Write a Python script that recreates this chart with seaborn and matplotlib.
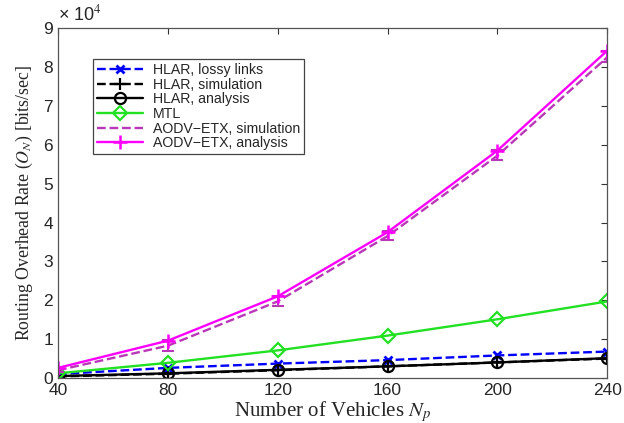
import matplotlib
matplotlib.use("Agg")
import matplotlib.pyplot as plt
import seaborn as sns
import numpy as np

# Data (routing overhead rate, in units of 10^4 bits/sec)
vehicles = [40, 80, 120, 160, 200, 240]
hlar_lossy = [0.10, 0.26, 0.37, 0.46, 0.58, 0.68]
hlar_sim = [0.04, 0.11, 0.20, 0.30, 0.40, 0.50]
hlar_analysis = [0.05, 0.12, 0.21, 0.30, 0.40, 0.51]
mtl = [0.12, 0.39, 0.71, 1.09, 1.51, 1.97]
aodv_sim = [0.20, 0.83, 1.97, 3.65, 5.72, 8.25]
aodv_sim_err_low = [0.05, 0.13, 0.12, 0.10, 0.12, 0.12]
aodv_sim_err_high = [0.05, 0.15, 0.13, 0.13, 0.15, 0.15]
aodv_analysis = [0.26, 0.96, 2.10, 3.75, 5.85, 8.42]

x_ticks = [40, 80, 120, 160, 200, 240]
y_ticks = list(range(0, 10))

sns.set_style("white")
plt.rcParams['font.family'] = ['Liberation Sans', 'DejaVu Sans']
plt.rcParams['mathtext.fontset'] = 'stix'

fig = plt.figure(figsize=(6.24, 4.23), dpi=100)
ax = fig.add_axes([0.093, 0.1064, 0.880, 0.827])

lw = 1.7
sns.lineplot(x=vehicles, y=hlar_lossy, ax=ax, color='#0000ff', linestyle='--', lw=lw,
             marker='x', markersize=6, markeredgecolor='#0000ff', markeredgewidth=2,
             label='HLAR, lossy links')
sns.lineplot(x=vehicles, y=hlar_sim, ax=ax, color='black', linestyle='--', lw=lw,
             marker='+', markersize=8, markeredgecolor='black', markeredgewidth=1.6,
             label='HLAR, simulation')
sns.lineplot(x=vehicles, y=hlar_analysis, ax=ax, color='black', linestyle='-', lw=lw,
             marker='o', markersize=8, markerfacecolor='none', markeredgecolor='black',
             markeredgewidth=1.6, label='HLAR, analysis')
sns.lineplot(x=vehicles, y=mtl, ax=ax, color='#22e022', linestyle='-', lw=lw,
             marker='D', markersize=7, markerfacecolor='none', markeredgecolor='#22e022',
             markeredgewidth=1.6, label='MTL')
sns.lineplot(x=vehicles, y=aodv_sim, ax=ax, color='#b838b8', linestyle='--', lw=lw,
             label='AODV\u2212ETX, simulation')
ax.errorbar(vehicles, aodv_sim, yerr=[aodv_sim_err_low, aodv_sim_err_high], fmt='none',
            ecolor='#b838b8', elinewidth=1.5, capsize=4, capthick=1.5)
sns.lineplot(x=vehicles, y=aodv_analysis, ax=ax, color='#ff00ff', linestyle='-', lw=lw,
             marker='+', markersize=10, markeredgecolor='#ff00ff', markeredgewidth=1.8,
             label='AODV\u2212ETX, analysis')

ax.set_xlim(40, 240)
ax.set_ylim(0, 9)
ax.set_xticks(x_ticks)
ax.set_yticks(y_ticks)
ax.tick_params(direction='in', length=4, width=0.8, top=True, right=True,
               labelsize=12.5, pad=3.5, color='#333333')
for s in ax.spines.values():
    s.set_linewidth(0.9)
    s.set_color('#555555')

ax.set_xlabel('Number of Vehicles $N_p$', family='Liberation Serif', fontsize=15, labelpad=1)
ax.set_ylabel('Routing Overhead Rate ($O_N$) [bits/sec]', family='Liberation Serif',
              fontsize=12.8, labelpad=6)
ax.text(0.0, 1.01, '\u00d7 10$^4$', transform=ax.transAxes, fontsize=13,
        ha='left', va='bottom')

leg = ax.legend(loc='upper left', bbox_to_anchor=(0.0638, 0.911), fontsize=10.2,
                frameon=True, fancybox=False, edgecolor='#444444', framealpha=1,
                handlelength=3.3, borderpad=0.25, labelspacing=0.05, handletextpad=0.7,
                borderaxespad=0)
leg.get_frame().set_linewidth(0.9)

fig.savefig('out.png', dpi=100)
